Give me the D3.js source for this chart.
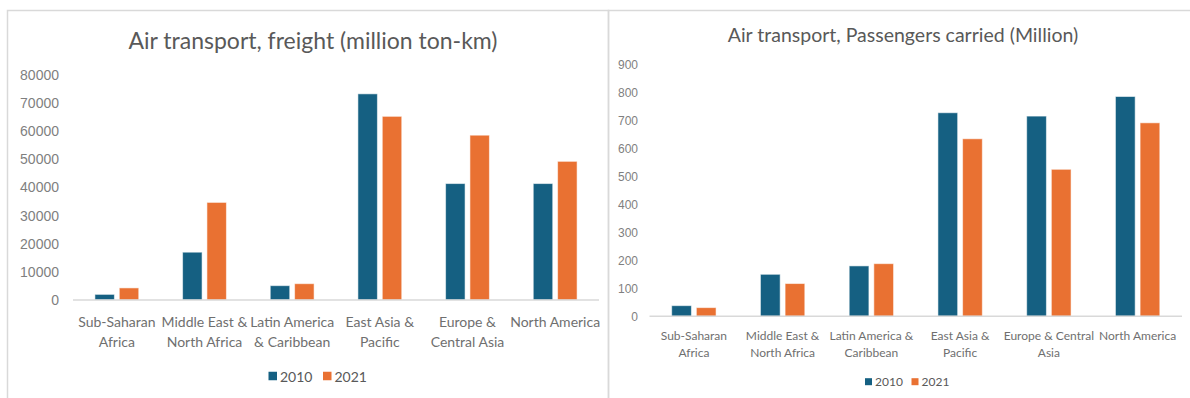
<!DOCTYPE html>
<html>
<head>
<meta charset="utf-8">
<script src="https://cdn.jsdelivr.net/npm/d3@7"></script>
<style>
  html, body { margin: 0; padding: 0; background: #fff; }
  svg { display: block; }
</style>
</head>
<body>
<svg id="chart" width="1190" height="398"></svg>
<script>
// Regions shared by both charts
const regions = ["Sub-Saharan Africa", "Middle East & North Africa", "Latin America & Caribbean",
                 "East Asia & Pacific", "Europe & Central Asia", "North America"];
const years = ["2010", "2021"];

// Air freight, million ton-km
const freight2010 = [2000, 17000, 5100, 73300, 41400, 41400];
const freight2021 = [4300, 34700, 5800, 65300, 58600, 49300];
const freightTicks = [0, 10000, 20000, 30000, 40000, 50000, 60000, 70000, 80000];
const freightLabels = [["Sub-Saharan", "Africa"], ["Middle East &", "North Africa"], ["Latin America", "& Caribbean"],
                       ["East Asia &", "Pacific"], ["Europe &", "Central Asia"], ["North America"]];

// Passengers carried, millions
const pass2010 = [38, 150, 180, 727, 715, 785];
const pass2021 = [31, 117, 188, 634, 525, 691];
const passTicks = [0, 100, 200, 300, 400, 500, 600, 700, 800, 900];
const passLabels = [["Sub-Saharan", "Africa"], ["Middle East &", "North Africa"], ["Latin America &", "Caribbean"],
                    ["East Asia &", "Pacific"], ["Europe & Central", "Asia"], ["North America"]];

const colors = { "2010": "#156082", "2021": "#E97132" };
const svg = d3.select("#chart");

// Panel frames
svg.append("rect").attr("x", 7.5).attr("y", 10.5).attr("width", 601).attr("height", 400)
  .attr("fill", "none").attr("stroke", "#d9d9d9").attr("stroke-width", 1.5);
svg.append("rect").attr("x", 608.5).attr("y", 10.5).attr("width", 600).attr("height", 400)
  .attr("fill", "none").attr("stroke", "#d9d9d9").attr("stroke-width", 1.5);

function drawChart(cfg) {
  const g = svg.append("g");
  const x = d3.scaleBand().domain(regions).range([cfg.x0, cfg.x1]).paddingInner(0.5).paddingOuter(0.25);
  const xs = d3.scaleBand().domain(years).range([0, x.bandwidth()]).paddingInner(0.2);
  const y = d3.scaleLinear().domain([0, cfg.max]).range([cfg.y0, cfg.yTop]);

  // title
  g.append("text").attr("x", cfg.titleX).attr("y", cfg.titleY)
    .attr("text-anchor", "middle").attr("dominant-baseline", "central")
    .attr("font-family", "Lato, 'Open Sans', sans-serif").attr("font-size", cfg.titleSize)
    .attr("fill", "#595959").text(cfg.title);

  // y axis labels (no line)
  const yAxis = d3.axisLeft(y).tickValues(cfg.ticks).tickSize(0).tickPadding(0).tickFormat(d3.format("d"));
  const ya = g.append("g").attr("transform", `translate(${cfg.tickX},0)`).call(yAxis);
  ya.select(".domain").remove();
  ya.selectAll("text").attr("font-family", "'Liberation Sans', Arial, sans-serif")
    .attr("font-size", cfg.tickSize).attr("fill", "#7f7f7f");

  // bars
  const rows = regions.map((r, i) => ({ region: r, "2010": cfg.v2010[i], "2021": cfg.v2021[i] }));
  const groups = g.selectAll(".grp").data(rows).join("g")
    .attr("transform", d => `translate(${x(d.region)},0)`);
  groups.selectAll("rect").data(d => years.map(k => ({ k, v: d[k] }))).join("rect")
    .attr("x", d => xs(d.k)).attr("width", xs.bandwidth())
    .attr("y", d => y(d.v)).attr("height", d => y(0) - y(d.v))
    .attr("fill", d => colors[d.k])
    .attr("stroke", "#ffffff").attr("stroke-opacity", 0.55).attr("stroke-width", 1);

  // baseline
  g.append("line").attr("x1", cfg.x0).attr("x2", cfg.x1).attr("y1", y(0)).attr("y2", y(0))
    .attr("stroke", "#d9d9d9").attr("stroke-width", 1.5);

  // category labels
  const xa = d3.axisBottom(x).tickSize(0).tickFormat(() => "");
  const xg = g.append("g").attr("transform", `translate(0,${y(0)})`).call(xa);
  xg.select(".domain").remove();
  xg.selectAll(".tick").each(function(d, i) {
    const t = d3.select(this).append("text")
      .attr("text-anchor", "middle").attr("dominant-baseline", "central")
      .attr("font-family", "Lato, 'Open Sans', sans-serif").attr("font-size", cfg.catSize)
      .attr("fill", "#6f6f6f");
    cfg.labels[i].forEach((line, j) => {
      t.append("tspan").attr("x", 0).attr("y", cfg.catY - y(0) + j * cfg.catLH).text(line);
    });
  });

  // legend
  const lg = g.append("g").attr("transform", `translate(0,${cfg.legY})`);
  years.forEach((k, i) => {
    lg.append("rect").attr("x", cfg.legX[i]).attr("y", -cfg.legSq / 2)
      .attr("width", cfg.legSq).attr("height", cfg.legSq).attr("fill", colors[k]);
    lg.append("text").attr("x", cfg.legX[i] + cfg.legSq + 3).attr("y", 0)
      .attr("dominant-baseline", "central")
      .attr("font-family", "Lato, 'Open Sans', sans-serif").attr("font-size", cfg.legSize)
      .attr("fill", "#595959").text(k);
  });
}

drawChart({
  title: "Air transport, freight (million ton-km)", titleX: 313, titleY: 40, titleSize: 23,
  x0: 73, x1: 599, y0: 300, yTop: 75, max: 80000, ticks: freightTicks, tickX: 59, tickSize: 14,
  v2010: freight2010, v2021: freight2021, labels: freightLabels,
  catY: 321, catLH: 20, catSize: 14,
  legY: 376, legX: [268.5, 323], legSq: 8.5, legSize: 14
});

drawChart({
  title: "Air transport, Passengers carried (Million)", titleX: 903, titleY: 34, titleSize: 19.5,
  x0: 649.5, x1: 1182, y0: 316.3, yTop: 64.3, max: 900, ticks: passTicks, tickX: 638, tickSize: 12,
  v2010: pass2010, v2021: pass2021, labels: passLabels,
  catY: 335, catLH: 17, catSize: 12,
  legY: 381.7, legX: [865, 911.5], legSq: 7, legSize: 12
});
</script>
</body>
</html>
